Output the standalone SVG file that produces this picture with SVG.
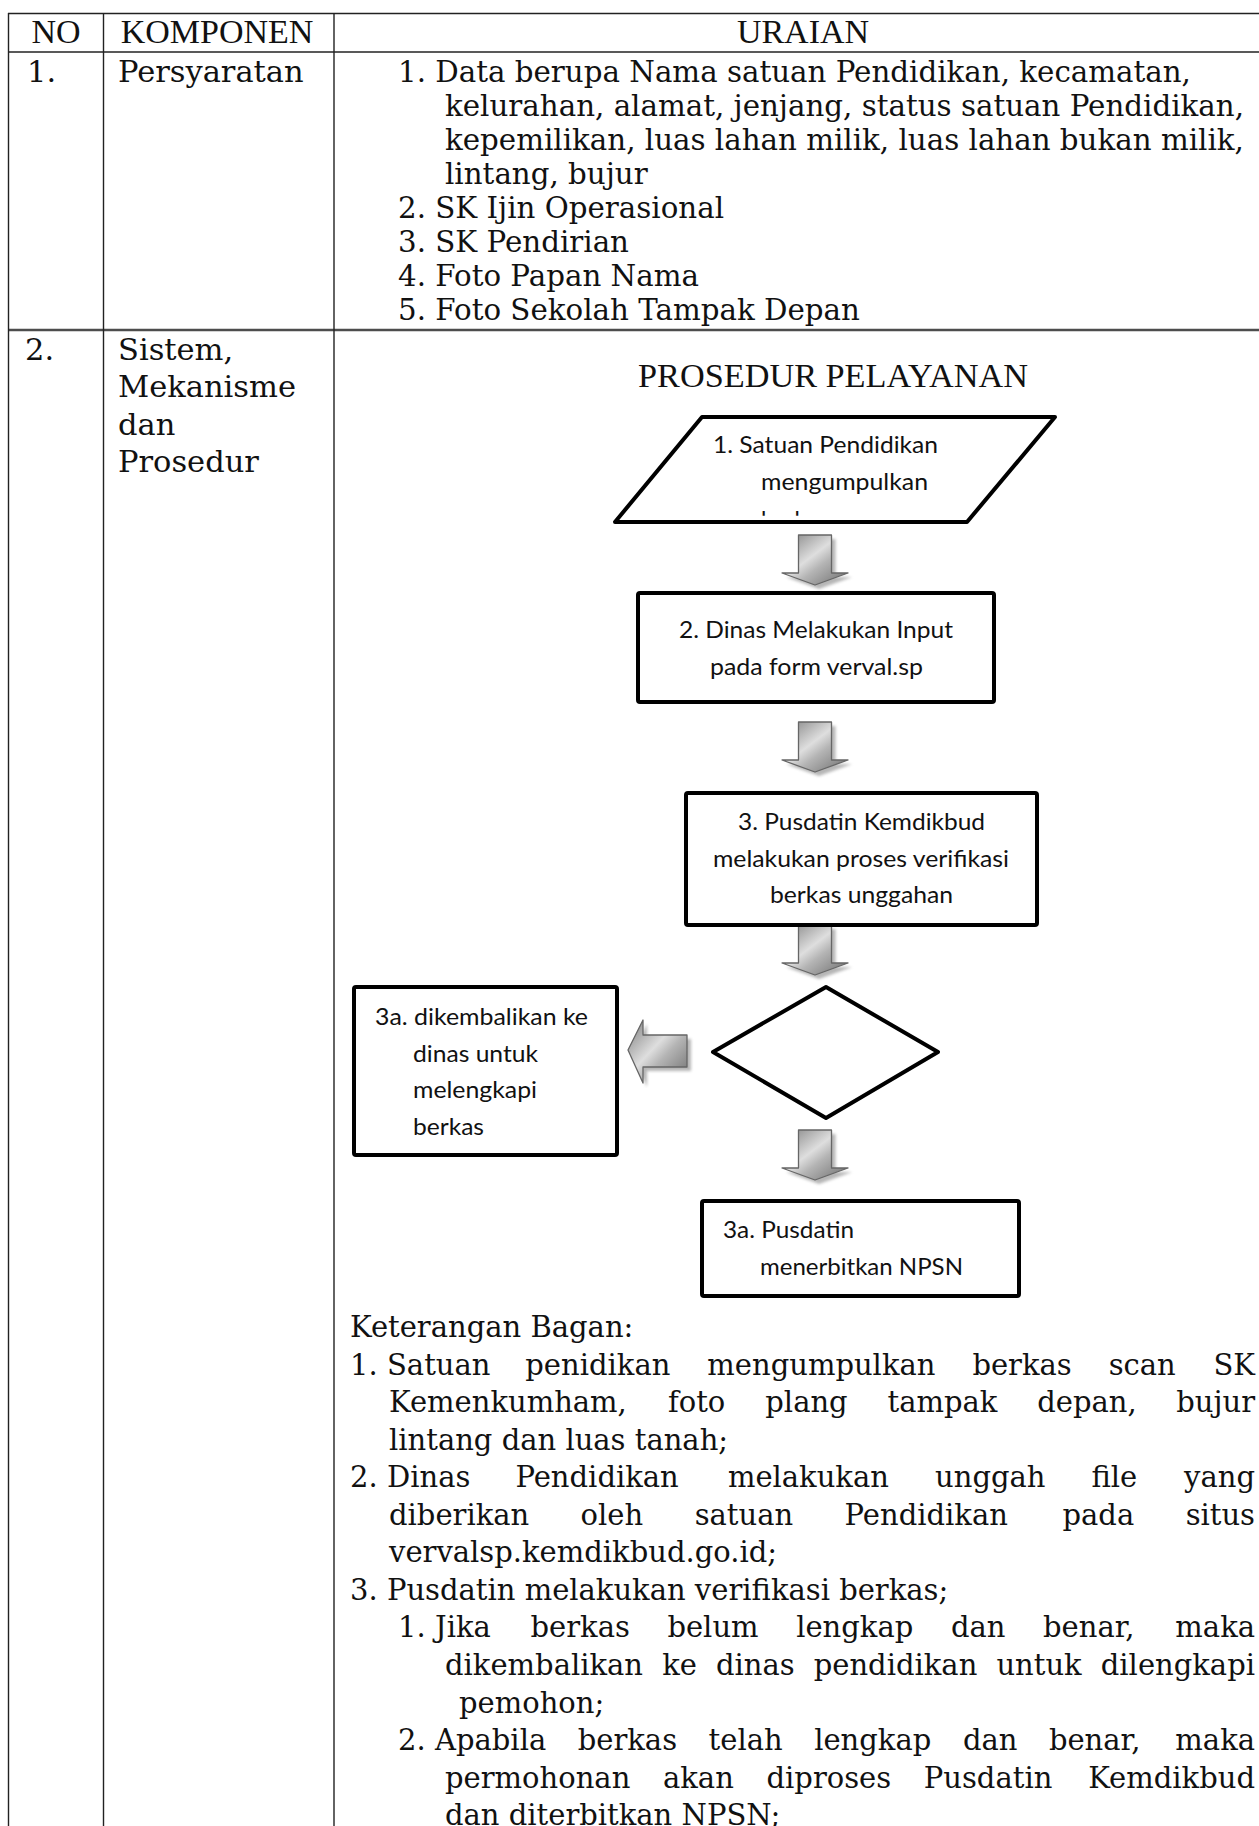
<svg xmlns="http://www.w3.org/2000/svg" width="1259" height="1826" viewBox="0 0 1259 1826">
<style>
  .grid{stroke:#222;stroke-width:1.4;fill:none}
  .rowsep{stroke:#4d4d4d;stroke-width:2.6;fill:none}
  .hd{font-family:"Liberation Serif","Times New Roman",serif;font-size:34px;fill:#111}
  .bd{font-family:"DejaVu Serif","Liberation Serif",serif;font-size:29px;fill:#111}
  .bd1{font-family:"DejaVu Serif","Liberation Serif",serif;font-size:29.3px;fill:#111}
  .lc{font-family:"DejaVu Serif","Liberation Serif",serif;font-size:30.5px;fill:#111}
  .fc{font-family:Lato,"Open Sans",sans-serif;font-size:23px;fill:#111}
  .shape{fill:#fff;stroke:#000;stroke-width:4;stroke-linejoin:round}
  .arrow{fill:url(#metal);stroke:#666;stroke-width:1.3;stroke-linejoin:round}
  .shadow{fill:#7a7a7a;opacity:.55;filter:url(#blur)}
  .mid{text-anchor:middle}
  .end{text-anchor:end}
</style>
<defs>
  <linearGradient id="metal" x1="0" y1="0" x2="1" y2="1">
    <stop offset="0" stop-color="#7c7c7c"/>
    <stop offset=".44" stop-color="#dedede"/>
    <stop offset=".6" stop-color="#b4b4b4"/>
    <stop offset="1" stop-color="#6c6c6c"/>
  </linearGradient>
  <filter id="blur" x="-30%" y="-30%" width="160%" height="160%">
    <feGaussianBlur stdDeviation="1.4"/>
  </filter>
  <!-- block arrow pointing down, origin at top centre of the shaft -->
  <path id="downArrow" d="M-16.5,0 H16.5 V38 H33 L0,50 L-33,38 H-16.5 Z"/>
  <!-- block arrow pointing left, origin at the tip -->
  <path id="leftArrow" d="M59,-15 V17 H15 V33 L0,0 L15,-30 V-15 Z"/>
  <!-- the third line of the input shape overflows its box and is cut off -->
  <clipPath id="paraClip"><rect x="600" y="400" width="480" height="115.8"/></clipPath>
</defs>

<rect x="0" y="0" width="1259" height="1826" fill="#fff"/>

<!-- table frame -->
<g id="table">
  <line class="grid" x1="8" y1="13.5" x2="1259" y2="13.5"/>
  <line class="grid" x1="8" y1="52" x2="1259" y2="52"/>
  <line class="rowsep" x1="8" y1="330" x2="1259" y2="330"/>
  <line class="grid" x1="8.5" y1="13" x2="8.5" y2="1826"/>
  <line class="grid" x1="103.5" y1="13" x2="103.5" y2="1826"/>
  <line class="grid" x1="334" y1="13" x2="334" y2="1826"/>
</g>

<!-- header row -->
<g id="header">
  <text class="hd mid" x="56" y="43">NO</text>
  <text class="hd mid" x="217" y="43">KOMPONEN</text>
  <text class="hd mid" x="803" y="43">URAIAN</text>
</g>

<!-- row 1: requirements -->
<g id="row1">
  <text class="lc" x="27" y="82">1.</text>
  <text class="lc" x="118" y="82">Persyaratan</text>
  <text class="bd1" x="398" y="82">1. Data berupa Nama satuan Pendidikan, kecamatan,</text>
  <text class="bd1" x="445" y="116">kelurahan, alamat, jenjang, status satuan Pendidikan,</text>
  <text class="bd1" x="445" y="150">kepemilikan, luas lahan milik, luas lahan bukan milik,</text>
  <text class="bd1" x="445" y="184">lintang, bujur</text>
  <text class="bd1" x="398" y="218">2. SK Ijin Operasional</text>
  <text class="bd1" x="398" y="252">3. SK Pendirian</text>
  <text class="bd1" x="398" y="286">4. Foto Papan Nama</text>
  <text class="bd1" x="398" y="320">5. Foto Sekolah Tampak Depan</text>
</g>

<!-- row 2: left cells -->
<g id="row2">
  <text class="lc" x="25" y="360">2.</text>
  <text class="lc" x="118" y="360">Sistem,</text>
  <text class="lc" x="118" y="397">Mekanisme</text>
  <text class="lc" x="118" y="435">dan</text>
  <text class="lc" x="118" y="472">Prosedur</text>
</g>

<text id="title" class="hd" x="638" y="387" textLength="390" lengthAdjust="spacingAndGlyphs">PROSEDUR PELAYANAN</text>

<!-- connectors -->
<g id="connectors">
  <use href="#downArrow" class="shadow" transform="translate(819,539)"/>
  <use href="#downArrow" class="arrow" transform="translate(815,535)"/>
  <use href="#downArrow" class="shadow" transform="translate(819,726)"/>
  <use href="#downArrow" class="arrow" transform="translate(815,722)"/>
  <use href="#downArrow" class="shadow" transform="translate(819,929)"/>
  <use href="#downArrow" class="arrow" transform="translate(815,925)"/>
  <use href="#downArrow" class="shadow" transform="translate(819,1134)"/>
  <use href="#downArrow" class="arrow" transform="translate(815,1130)"/>
  <use href="#leftArrow" class="shadow" transform="translate(632,1054)"/>
  <use href="#leftArrow" class="arrow" transform="translate(628,1050)"/>
</g>

<!-- step 1: input -->
<g id="node-collect">
  <polygon class="shape" points="702,417 1055,417 967,522 615,522"/>
  <text class="fc" x="713" y="453" textLength="225" lengthAdjust="spacingAndGlyphs">1. Satuan Pendidikan</text>
  <text class="fc" x="761" y="490" textLength="167" lengthAdjust="spacingAndGlyphs">mengumpulkan</text>
  <text class="fc" x="761" y="528" clip-path="url(#paraClip)">berkas</text>
</g>

<!-- step 2 -->
<g id="node-input">
  <rect class="shape" x="638" y="593" width="356" height="109" rx="2"/>
  <text class="fc" x="679" y="638" textLength="274" lengthAdjust="spacingAndGlyphs">2. Dinas Melakukan Input</text>
  <text class="fc" x="710" y="675" textLength="213" lengthAdjust="spacingAndGlyphs">pada form verval.sp</text>
</g>

<!-- step 3 -->
<g id="node-verify">
  <rect class="shape" x="686" y="793" width="351" height="132" rx="2"/>
  <text class="fc" x="738" y="830" textLength="247" lengthAdjust="spacingAndGlyphs">3. Pusdatin Kemdikbud</text>
  <text class="fc" x="713" y="867" textLength="296" lengthAdjust="spacingAndGlyphs">melakukan proses verifikasi</text>
  <text class="fc" x="770" y="903" textLength="183" lengthAdjust="spacingAndGlyphs">berkas unggahan</text>
</g>

<!-- decision -->
<g id="node-decision">
  <polygon class="shape" points="826,987 938,1052 826,1118 713,1052"/>
</g>

<!-- 3a: returned -->
<g id="node-return">
  <rect class="shape" x="354" y="987" width="263" height="168" rx="2"/>
  <text class="fc" x="375" y="1025" textLength="213" lengthAdjust="spacingAndGlyphs">3a. dikembalikan ke</text>
  <text class="fc" x="413" y="1062" textLength="125" lengthAdjust="spacingAndGlyphs">dinas untuk</text>
  <text class="fc" x="413" y="1098" textLength="124" lengthAdjust="spacingAndGlyphs">melengkapi</text>
  <text class="fc" x="413" y="1135" textLength="71" lengthAdjust="spacingAndGlyphs">berkas</text>
</g>

<!-- 3a: NPSN issued -->
<g id="node-npsn">
  <rect class="shape" x="702" y="1201" width="317" height="95" rx="2"/>
  <text class="fc" x="723" y="1238" textLength="131" lengthAdjust="spacingAndGlyphs">3a. Pusdatin</text>
  <text class="fc" x="760" y="1275" textLength="203" lengthAdjust="spacingAndGlyphs">menerbitkan NPSN</text>
</g>

<!-- legend, justified lines set word by word -->
<g id="legend" class="bd">
  <text x="350" y="1337">Keterangan Bagan:</text>

  <text x="350" y="1374.6">1.</text>
  <text y="1374.6"><tspan x="387">Satuan</tspan><tspan x="525.3">penidikan</tspan><tspan x="707.3">mengumpulkan</tspan><tspan x="972.4">berkas</tspan><tspan x="1108.7">scan</tspan></text>
  <text class="end" x="1255" y="1374.6">SK</text>

  <text y="1412.1"><tspan x="389">Kemenkumham,</tspan><tspan x="668">foto</tspan><tspan x="765.3">plang</tspan><tspan x="887.5">tampak</tspan><tspan x="1037.2">depan,</tspan></text>
  <text class="end" x="1255" y="1412.1">bujur</text>

  <text x="389" y="1449.7">lintang dan luas tanah;</text>

  <text x="350" y="1487.2">2.</text>
  <text y="1487.2"><tspan x="387">Dinas</tspan><tspan x="515.5">Pendidikan</tspan><tspan x="727.9">melakukan</tspan><tspan x="935.1">unggah</tspan><tspan x="1091.5">file</tspan></text>
  <text class="end" x="1255" y="1487.2">yang</text>

  <text y="1524.8"><tspan x="389">diberikan</tspan><tspan x="580.6">oleh</tspan><tspan x="694.7">satuan</tspan><tspan x="844.6">Pendidikan</tspan><tspan x="1062.5">pada</tspan></text>
  <text class="end" x="1255" y="1524.8">situs</text>

  <text x="389" y="1562.3">vervalsp.kemdikbud.go.id;</text>

  <text x="350" y="1599.9">3. Pusdatin melakukan verifikasi berkas;</text>

  <text x="398" y="1637.4">1.</text>
  <text y="1637.4"><tspan x="435">Jika</tspan><tspan x="530.5">berkas</tspan><tspan x="667.4">belum</tspan><tspan x="796.2">lengkap</tspan><tspan x="950.9">dan</tspan><tspan x="1043">benar,</tspan></text>
  <text class="end" x="1255" y="1637.4">maka</text>

  <text y="1675"><tspan x="445">dikembalikan</tspan><tspan x="662.2">ke</tspan><tspan x="716">dinas</tspan><tspan x="813.7">pendidikan</tspan><tspan x="996.4">untuk</tspan></text>
  <text class="end" x="1255" y="1675">dilengkapi</text>

  <text x="459" y="1712.5">pemohon;</text>

  <text x="398" y="1750.1">2.</text>
  <text y="1750.1"><tspan x="435">Apabila</tspan><tspan x="577.7">berkas</tspan><tspan x="708.6">telah</tspan><tspan x="814.2">lengkap</tspan><tspan x="962.9">dan</tspan><tspan x="1048.9">benar,</tspan></text>
  <text class="end" x="1255" y="1750.1">maka</text>

  <text y="1787.6"><tspan x="445">permohonan</tspan><tspan x="663">akan</tspan><tspan x="766.5">diproses</tspan><tspan x="923.8">Pusdatin</tspan></text>
  <text class="end" x="1255" y="1787.6">Kemdikbud</text>

  <text x="445" y="1825.2">dan diterbitkan NPSN;</text>
</g>
</svg>
